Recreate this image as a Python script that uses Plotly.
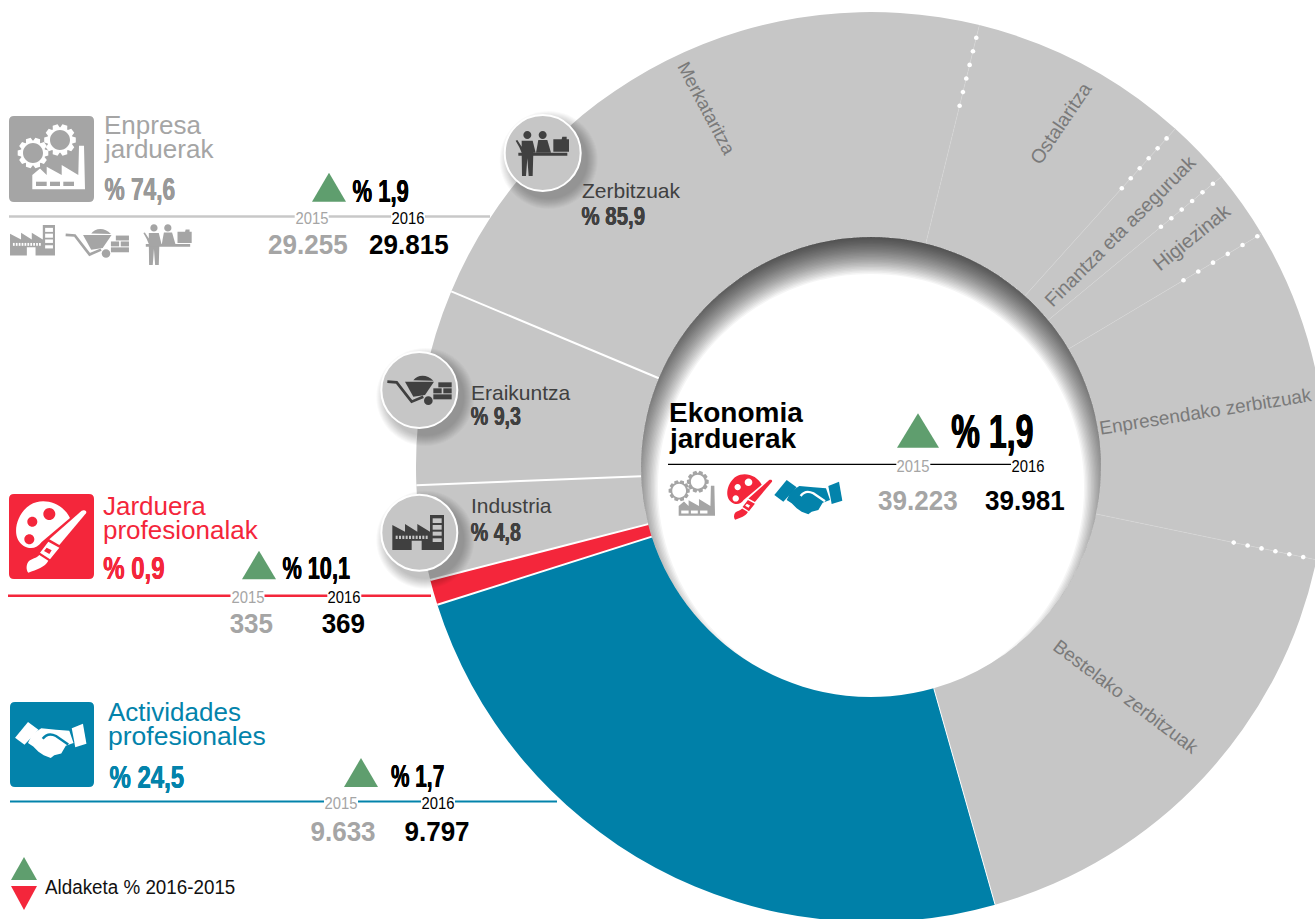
import re
import numpy as np
import plotly.graph_objects as go

# ---------- data ----------
slice_labels = ["Merkataritza", "Ostalaritza", "Finantza eta aseguruak", "Higiezinak",
                "Enpresendako zerbitzuak", "Bestelako zerbitzuak",
                "Actividades profesionales", "Jarduera profesionalak", "Industria", "Eraikuntza"]
slice_values = [22.52, 7.83, 2.33, 2.44, 11.84, 17.33, 24.5, 0.9, 3.36, 6.94]
slice_colors = ["#c6c6c6"] * 6 + ["#0080a8", "#f4263b", "#c6c6c6", "#c6c6c6"]
years = ["2015", "2016"]
enpresa = ["29.255", "29.815"]
jarduera = ["335", "369"]
actividades = ["9.633", "9.797"]
ekonomia = ["39.223", "39.981"]

W, H = 1400, 1000
CX, CY, R_OUT, R_IN, ROT = 871.0, 467.0, 455.0, 230.0, 292.7
GREY, RED, TEAL, GREEN, TXT, LBL = "#a5a5a5", "#f4263b", "#0383ab", "#5f9e6e", "#404040", "#7a7a7a"
SANS = "Liberation Sans"

shapes, notes = [], []


def T(d, ox, oy, s):
    out, i = [], 0
    for tok in d.split():
        if re.fullmatch(r"[A-Za-z]", tok):
            out.append(tok)
        else:
            out.append(f"{(ox if i % 2 == 0 else oy) + s * float(tok):.2f}")
            i += 1
    return " ".join(out)


def circ(cx, cy, r):
    k = 0.5523 * r
    return (f"M {cx-r:.2f} {cy:.2f} C {cx-r:.2f} {cy-k:.2f} {cx-k:.2f} {cy-r:.2f} {cx:.2f} {cy-r:.2f} "
            f"C {cx+k:.2f} {cy-r:.2f} {cx+r:.2f} {cy-k:.2f} {cx+r:.2f} {cy:.2f} "
            f"C {cx+r:.2f} {cy+k:.2f} {cx+k:.2f} {cy+r:.2f} {cx:.2f} {cy+r:.2f} "
            f"C {cx-k:.2f} {cy+r:.2f} {cx-r:.2f} {cy+k:.2f} {cx-r:.2f} {cy:.2f} Z")


def add(path, fill=None, line=None, lw=0, op=1.0):
    shapes.append(dict(type="path", path=path, xref="x", yref="y", layer="above", opacity=op,
                       fillcolor=fill if fill else "rgba(0,0,0,0)",
                       line=dict(color=line if line else "rgba(0,0,0,0)", width=lw)))


def seg(x0, y0, x1, y1, color, width):
    shapes.append(dict(type="line", x0=x0, y0=y0, x1=x1, y1=y1, xref="x", yref="y", layer="above",
                       line=dict(color=color, width=width)))


def txt(s, x, base, size, color, fam=SANS, bold=False, anchor="left", thick=0):
    font = dict(family=fam, size=size, color=color, weight=700 if bold else 400)
    if thick:
        font["shadow"] = f"{thick}px 0 0 {color}, -{thick}px 0 0 {color}"
    notes.append(dict(text=s, x=x, y=base - 0.345 * size, xref="x", yref="y", xanchor=anchor, yanchor="middle",
                      showarrow=False, font=font, borderpad=0))


def rot(s, x, y, size, angle):
    notes.append(dict(text=s, x=x, y=y, xref="x", yref="y", xanchor="center", yanchor="middle",
                      showarrow=False, textangle=angle, borderpad=0,
                      font=dict(family=SANS, size=size, color=LBL)))


def tri(x0, x1, ybase, yapex, color):
    add(f"M {x0} {ybase} L {x1} {ybase} L {(x0+x1)/2} {yapex} Z", fill=color)


def big(s, xc, base, size, color, pct):
    txt(s, xc, base, size, color, fam=f"{SANS}, c{pct}", bold=True, anchor="center", thick=round(size * 0.012, 2))


def num(s, x, base, color):
    txt(s, x, base, 28, color, fam=f"{SANS}, c93", bold=True, anchor="center")


def year(s, x, base, color):
    add(f"M {x-17} {base-15} L {x+17} {base-15} L {x+17} {base+2} L {x-17} {base+2} Z", fill="#ffffff")
    txt(s, x, base, 17, color, fam=f"{SANS}, c87", anchor="center")


# ---------- slice boundaries, derived from the values ----------
cum = np.cumsum([0] + slice_values) / np.sum(slice_values)
angles = ROT + 360.0 * cum


def polar(r, deg):
    t = np.radians(deg)
    return CX + r * np.sin(t), CY - r * np.cos(t)


dot_runs = [(442, 14), (442, 13.4), (444, 13.5), (450, 17.2), (441.5, 14.2)]
for k, (r0, step) in zip(range(1, 6), dot_runs):
    seg(*polar(R_IN, angles[k]), *polar(R_OUT, angles[k]), "#d6d6d6", 0.5)
    for j in range(6):
        x, y = polar(r0 - step * j, angles[k])
        add(circ(x, y, 2.3), fill="#ffffff")
for k, w in [(6, 1.0), (7, 2), (8, 2), (9, 2), (10, 2)]:
    seg(*polar(R_IN, angles[k]), *polar(R_OUT, angles[k]), "#ffffff", w)

# ---------- inner shadow: stacked lunes inside the hole, offset downwards ----------
N, D = 26, 20.0
th = np.linspace(0, 2 * np.pi, 140, endpoint=False)
ux, uy = np.sin(th), -np.cos(th)
ring = "M " + " L ".join(f"{CX + R_IN * a:.2f} {CY + R_IN * b:.2f}" for a, b in zip(ux, uy)) + " Z"
for i in range(N):
    q = 213.0 + 37.0 * (i / N)
    rho = np.minimum(D * uy + np.sqrt(q ** 2 - (D * ux) ** 2), R_IN)
    inner = "M " + " L ".join(f"{CX + p * a:.2f} {CY + p * b:.2f}" for p, a, b in zip(rho, ux, uy)) + " Z"
    add(ring + " " + inner, fill="#000000", op=0.04)


# ---------- icons ----------
def factory(ox, oy, s, color, bg):
    add(T("M 67 630 L 67 555 L 105 575 L 105 552 L 142 575 L 142 552 L 180 575 L 180 525 L 222 525 "
          "L 222 630 L 155 630 L 155 602 L 125 602 L 125 630 Z", ox, oy, s), fill=color)
    for y0, y1 in [(535, 549), (555, 569), (575, 587), (595, 606)]:
        add(T(f"M 188 {y0} L 215 {y0} L 215 {y1} L 188 {y1} Z", ox, oy, s), fill=bg)
    for x0 in range(77, 170, 10):
        add(T(f"M {x0} 587 L {x0+6} 587 L {x0+6} 597 L {x0} 597 Z", ox, oy, s), fill=bg)


def barrow(ox, oy, s, color, bg):
    add(T("M 105 125 L 192 125 L 165 165 L 130 170 Z", ox, oy, s), fill=color)
    add(T("M 130 121 C 140 105 170 100 190 122 Z", ox, oy, s), fill=color)
    add(T("M 52 125 L 80 127 L 115 172 L 125 185 L 160 170", ox, oy, s), line=color, lw=8 * s)
    add(circ(ox + 175 * s, oy + 182 * s, 13 * s), fill=color)
    for a, b, c, e in [(205, 127, 245, 142), (190, 145, 215, 160), (220, 145, 245, 160), (190, 163, 245, 178)]:
        add(T(f"M {a} {b} L {c} {b} L {c} {e} L {a} {e} Z", ox, oy, s), fill=color)


def people(ox, oy, s, color):
    for hx in (472, 518):
        add(circ(ox + hx * s, oy + 105 * s, 12 * s), fill=color)
    add(T("M 455 122 L 488 122 L 497 158 L 490 158 L 488 228 L 476 228 L 472 175 L 468 228 L 456 228 "
          "L 455 158 L 448 142 L 437 122 L 442 120 L 455 140 Z", ox, oy, s), fill=color)
    add(T("M 505 120 L 532 120 L 543 158 L 498 158 Z", ox, oy, s), fill=color)
    add(T("M 445 158 L 592 158 L 592 167 L 445 167 Z", ox, oy, s), fill=color)
    add(T("M 550 118 L 575 118 L 577 110 L 590 110 L 590 118 L 597 118 L 597 155 L 550 155 Z", ox, oy, s), fill=color)


def gear(cx, cy, r, hole, n=10):
    pts = []
    for i in range(n):
        a = 2 * np.pi * i / n
        for da, rr in [(-0.30, 0.80), (-0.17, 1.0), (0.17, 1.0), (0.30, 0.80)]:
            b = a + da * 2 * np.pi / n * 1.5
            pts.append((cx + rr * r * np.cos(b), cy + rr * r * np.sin(b)))
    return "M " + " L ".join(f"{x:.2f} {y:.2f}" for x, y in pts) + " Z " + circ(cx, cy, hole)


def gears_factory(ox, oy, s, color, bg):
    add(gear(ox + 24 * s, oy + 37 * s, 15.5 * s, 10 * s), fill=color)
    add(gear(ox + 51 * s, oy + 24 * s, 16 * s, 10 * s), fill=color)
    add(T("M 23.3 73.3 L 23.3 59 L 31 52.5 L 37.7 59 L 37.7 50.7 L 52.7 59 L 52.7 49 L 69.3 59 "
          "L 70 29.7 L 75 29.7 L 76 73.3 Z", ox, oy, s), fill=color)
    for a, b in [(27, 37.7), (41, 51), (54.3, 65)]:
        add(T(f"M {a} 65.7 L {b} 65.7 L {b} 70 L {a} 70 Z", ox, oy, s), fill=bg)


def palette(ox, oy, s, color):
    holes = " ".join(circ(ox + x * s, oy + y * s, r * s) for x, y, r in [(148, 102, 18), (97, 125, 15), (88, 178, 15)])
    add(T("M 210 114 C 190 70 130 50 90 75 C 50 100 30 170 70 197 C 90 210 112 205 125 186 Z", ox, oy, s) + " " + holes,
        fill=color)
    add(T("M 245 92 C 252 88 262 92 258 100 L 178 195 L 148 178 Z", ox, oy, s), fill=color)
    add(T("M 145 185 L 178 203 L 150 238 L 120 218 Z M 140 203 L 155 211 L 148 222 L 132 213 Z", ox, oy, s), fill=color)
    add(T("M 118 225 L 145 242 C 135 262 110 268 85 278 C 78 270 78 255 85 245 C 95 235 110 235 118 225 Z", ox, oy, s), fill=color)


def handshake(ox, oy, s, color, bg):
    add(T("M 403 345 L 440 300 L 470 322 L 430 365 Z", ox, oy, s), fill=color)
    add(T("M 565 318 L 597 305 L 607 362 L 575 372 Z", ox, oy, s), fill=color)
    add(T("M 452 335 L 478 318 L 520 322 L 558 325 L 570 360 L 548 368 L 535 390 L 515 395 L 505 403 "
          "L 485 395 L 470 385 L 455 370 L 440 360 Z", ox, oy, s), fill=color)
    add(T("M 482 348 C 495 330 510 335 520 340 L 555 364", ox, oy, s), line=bg, lw=7 * s)


def badge(cx, cy, r=38):
    for i in range(11):
        add(circ(cx + 6, cy + 7, r + 11 - i), fill="#000000", op=0.024)
    shapes.append(dict(type="path", path=circ(cx, cy, r), xref="x", yref="y", layer="above",
                       fillcolor="#c6c6c6", line=dict(color="#ffffff", width=2)))


def box(x0, y0, x1, y1, color, r=5):
    add(f"M {x0+r} {y0} L {x1-r} {y0} Q {x1} {y0} {x1} {y0+r} L {x1} {y1-r} Q {x1} {y1} {x1-r} {y1} "
        f"L {x0+r} {y1} Q {x0} {y1} {x0} {y1-r} L {x0} {y0+r} Q {x0} {y0} {x0+r} {y0} Z", fill=color)


DARK = "#404040"
badge(542.7, 153)
people(370, 100, 1 / 3, DARK)
badge(419.3, 390)
barrow(370, 340, 1 / 3, DARK, "#c6c6c6")
badge(419.3, 532.7)
factory(370, 340, 1 / 3, DARK, "#c6c6c6")

# ---------- Enpresa jarduerak ----------
box(9, 116, 94, 202, GREY)
gears_factory(9, 116, 1, "#ffffff", GREY)
txt("Enpresa", 103, 134, 26, GREY)
txt("jarduerak", 103, 158, 26, GREY)
big("% 74,6", 139.5, 200, 32, "#999999", 71)
tri(312, 346, 201.7, 172.7, GREEN)
big("% 1,9", 380, 201.7, 31, "#000000", 71)
seg(9, 216.5, 490, 216.5, "#c8c8c8", 2.6)
year(years[0], 311.7, 224, GREY)
year(years[1], 408, 224, "#000000")
num(enpresa[0], 307.5, 254, GREY)
num(enpresa[1], 409, 254, "#000000")
factory(-9.4, 72.7, 0.29, GREY, "#ffffff")
barrow(48.6, 193.9, 0.328, GREY, "#ffffff")
people(11.4, 196.2, 0.302, GREY)

# ---------- Jarduera profesionalak ----------
box(9, 494, 94, 579, RED)
palette(0, 480, 1 / 3, "#ffffff")
txt("Jarduera", 102, 515, 26, RED)
txt("profesionalak", 102, 539.3, 26, RED)
big("% 0,9", 134, 579, 32, RED, 75)
tri(242, 276, 579.3, 550.7, GREEN)
big("% 10,1", 316, 579, 31, "#000000", 70)
seg(8, 595.7, 431, 595.7, RED, 2.6)
year(years[0], 247.5, 603, GREY)
year(years[1], 344.3, 603, "#000000")
num(jarduera[0], 251.7, 633, GREY)
num(jarduera[1], 343.8, 633, "#000000")

# ---------- Actividades profesionales ----------
box(10, 702, 94, 787, TEAL)
handshake(-126, 617, 0.35, "#ffffff", TEAL)
txt("Actividades", 107, 721, 26, TEAL)
txt("profesionales", 107, 745, 26.5, TEAL)
big("% 24,5", 146.5, 788, 32, TEAL, 75)
tri(344, 378, 787, 758, GREEN)
big("% 1,7", 417.5, 787, 31, "#000000", 67)
seg(10, 801.5, 557, 801.5, TEAL, 2)
year(years[0], 341, 809, GREY)
year(years[1], 438, 809, "#000000")
num(actividades[0], 343, 841, GREY)
num(actividades[1], 437, 841, "#000000")

# ---------- legend ----------
tri(11, 37, 880, 857, GREEN)
tri(11, 37, 886, 910, RED)
txt("Aldaketa % 2016-2015", 140, 894, 20, "#111111", fam=f"{SANS}, c94", anchor="center")

# ---------- centre ----------
txt("Ekonomia", 668, 421.7, 28, "#000000", bold=True)
txt("jarduerak", 668, 448, 28, "#000000", bold=True)
tri(897, 939, 447.7, 413.3, GREEN)
big("% 1,9", 992.5, 448, 48, "#000000", 67)
seg(668, 464.3, 1012, 464.3, "#000000", 1.3)
year(years[0], 913.3, 472.3, GREY)
year(years[1], 1028, 472.3, "#000000")
num(ekonomia[0], 917.7, 510, GREY)
num(ekonomia[1], 1025, 510, "#000000")
gears_factory(662.6, 465.2, 0.69, GREY, "#ffffff")
palette(717, 460.5, 0.213, RED)
handshake(640, 380, 1 / 3, TEAL, "#ffffff")

# ---------- ring labels ----------
txt("Zerbitzuak", 581, 197.7, 21, TXT)
big("% 85,9", 613.5, 225, 26.5, TXT, 77)
txt("Eraikuntza", 470, 399.3, 21, TXT)
big("% 9,3", 496, 425, 26.5, TXT, 74)
txt("Industria", 470, 512.7, 21, TXT)
big("% 4,8", 495.5, 541, 26.5, TXT, 74)
rot(slice_labels[0], 707, 108, 18.5, 62)
rot(slice_labels[1], 1060.7, 123.3, 19.5, -56)
rot(slice_labels[2], 1120, 231, 19.5, -45)
rot(slice_labels[3], 1191.7, 236.7, 20, -39)
rot(slice_labels[4], 1205, 411, 19, -9)
rot(slice_labels[5], 1125.7, 696.7, 19, 37)

# ---------- figure ----------
fig = go.Figure()
fig.add_trace(go.Scatter(x=[0], y=[0], mode="markers", marker=dict(opacity=0), hoverinfo="skip", showlegend=False))
fig.add_trace(go.Pie(labels=slice_labels, values=slice_values, sort=False, direction="clockwise", rotation=ROT,
                     hole=R_IN / R_OUT, textinfo="none", hoverinfo="label+percent", showlegend=False,
                     marker=dict(colors=slice_colors, line=dict(width=0)),
                     domain=dict(x=[(CX - R_OUT) / W, (CX + R_OUT) / W],
                                 y=[1 - (CY + R_OUT) / H, 1 - (CY - R_OUT) / H])))
fig.update_layout(width=W, height=H, margin=dict(l=0, r=0, t=0, b=0, pad=0), autosize=False,
                  paper_bgcolor="#ffffff", plot_bgcolor="#ffffff", showlegend=False,
                  xaxis=dict(range=[0, W], visible=False, fixedrange=True),
                  yaxis=dict(range=[H, 0], visible=False, fixedrange=True),
                  shapes=shapes, annotations=notes)
POST = """
document.documentElement.style.overflow='hidden';
document.body.style.overflow='hidden';
document.body.style.margin='0';
document.querySelectorAll('.annotation-text').forEach(function(t){
  var m=/c(\\d+)/.exec(t.style.fontFamily);
  if(m){t.setAttribute('textLength',t.getComputedTextLength()*m[1]/100);
        t.setAttribute('lengthAdjust','spacingAndGlyphs');}
});
"""
fig.write_html("out.html", config=dict(displayModeBar=False), post_script=POST)
